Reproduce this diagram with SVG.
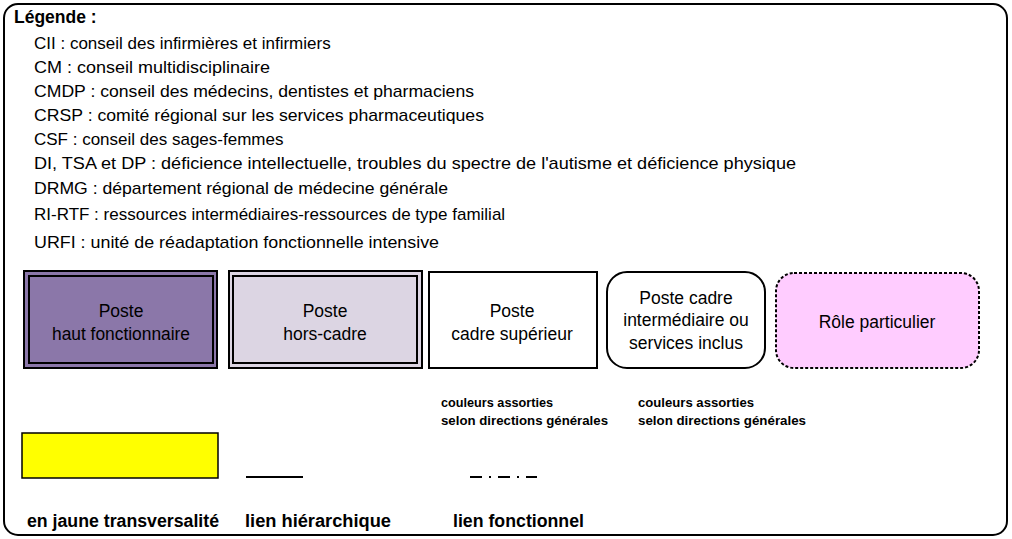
<svg xmlns="http://www.w3.org/2000/svg" width="1012" height="539" viewBox="0 0 1012 539">
<style>
.t{font-family:"Liberation Sans",Arial,sans-serif;font-size:17px;fill:#000}
.h{font-family:"Liberation Sans",Arial,sans-serif;font-size:17.5px;font-weight:bold;fill:#000}
.bx{font-family:"Liberation Sans",Arial,sans-serif;font-size:17.5px;fill:#000;text-anchor:middle}
.c{font-family:"Liberation Sans",Arial,sans-serif;font-size:12.5px;font-weight:bold;fill:#000}
.b{font-family:"Liberation Sans",Arial,sans-serif;font-size:17.5px;font-weight:bold;fill:#000}
.s{stroke:#000;stroke-width:2}
</style>
<rect id="frame" x="4" y="4" width="1003" height="531" rx="14" fill="#fff" class="s"/>
<g id="legend-text">
<text class="h" x="14" y="23">Légende :</text>
<text class="t" x="34" y="49">CII : conseil des infirmières et infirmiers</text>
<text class="t" x="34" y="73" textLength="236" lengthAdjust="spacingAndGlyphs">CM : conseil multidisciplinaire</text>
<text class="t" x="34" y="97" textLength="440" lengthAdjust="spacingAndGlyphs">CMDP : conseil des médecins, dentistes et pharmaciens</text>
<text class="t" x="34" y="121" textLength="450" lengthAdjust="spacingAndGlyphs">CRSP : comité régional sur les services pharmaceutiques</text>
<text class="t" x="34" y="145">CSF : conseil des sages-femmes</text>
<text class="t" x="34" y="169" textLength="762" lengthAdjust="spacingAndGlyphs">DI, TSA et DP : déficience intellectuelle, troubles du spectre de l'autisme et déficience physique</text>
<text class="t" x="34" y="194" textLength="414" lengthAdjust="spacingAndGlyphs">DRMG : département régional de médecine générale</text>
<text class="t" x="34" y="220">RI-RTF : ressources intermédiaires-ressources de type familial</text>
<text class="t" x="34" y="248" textLength="405" lengthAdjust="spacingAndGlyphs">URFI : unité de réadaptation fonctionnelle intensive</text>
</g>
<g id="node-haut-fonctionnaire">
<rect x="24" y="271" width="193" height="97" fill="#8b77a9" class="s"/>
<rect x="29" y="276" width="184" height="87" fill="none" class="s"/>
<text class="bx" x="121" y="317">Poste</text>
<text class="bx" x="121" y="340" textLength="138" lengthAdjust="spacingAndGlyphs">haut fonctionnaire</text>
</g>
<g id="node-hors-cadre">
<rect x="229" y="271" width="193" height="97" fill="#dcd5e3" class="s"/>
<rect x="233" y="276" width="184" height="87" fill="none" class="s"/>
<text class="bx" x="325" y="317">Poste</text>
<text class="bx" x="325" y="340">hors-cadre</text>
</g>
<g id="node-cadre-superieur">
<rect x="429" y="272" width="168" height="96" fill="#fff" class="s"/>
<text class="bx" x="512" y="317">Poste</text>
<text class="bx" x="512" y="340">cadre supérieur</text>
</g>
<g id="node-cadre-intermediaire">
<rect x="607" y="272" width="158" height="96" rx="20" fill="#fff" class="s"/>
<text class="bx" x="686" y="304">Poste cadre</text>
<text class="bx" x="686" y="326">intermédiaire ou</text>
<text class="bx" x="686" y="349">services inclus</text>
</g>
<g id="node-role-particulier">
<rect x="776" y="273" width="203" height="95" rx="18" fill="#ffccff" stroke="#000" stroke-width="2" stroke-dasharray="3,2"/>
<text class="bx" x="877" y="328">Rôle particulier</text>
</g>
<g id="captions">
<text class="c" x="441" y="407" textLength="112" lengthAdjust="spacingAndGlyphs">couleurs assorties</text>
<text class="c" x="441" y="425" textLength="167" lengthAdjust="spacingAndGlyphs">selon directions générales</text>
<text class="c" x="638" y="407" textLength="116" lengthAdjust="spacingAndGlyphs">couleurs assorties</text>
<text class="c" x="638" y="425" textLength="168" lengthAdjust="spacingAndGlyphs">selon directions générales</text>
</g>
<g id="node-transversalite">
<rect x="22" y="433" width="196" height="45" fill="#ffff00" stroke="#000" stroke-width="1.5"/>
</g>
<g id="connectors">
<line x1="246" y1="477" x2="303" y2="477" stroke="#000" stroke-width="2"/>
<line x1="470" y1="477" x2="537" y2="477" stroke="#000" stroke-width="2" stroke-dasharray="12 7 2 7"/>
</g>
<g id="bottom-labels">
<text class="b" x="27" y="527" textLength="192" lengthAdjust="spacingAndGlyphs">en jaune transversalité</text>
<text class="b" x="245" y="527" textLength="146" lengthAdjust="spacingAndGlyphs">lien hiérarchique</text>
<text class="b" x="453" y="527" textLength="131" lengthAdjust="spacingAndGlyphs">lien fonctionnel</text>
</g>
</svg>
